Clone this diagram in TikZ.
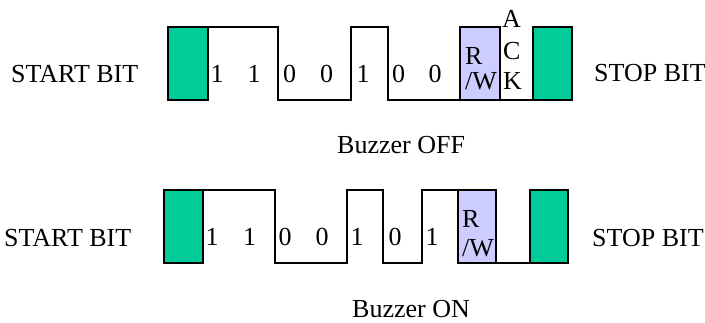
\documentclass[tikz,border=0pt]{standalone}
\usepackage{fontspec}
\setmainfont{Liberation Serif}
\definecolor{bitgreen}{HTML}{00CC99}
\definecolor{rwblue}{HTML}{CCCCFF}
\begin{document}
\begin{tikzpicture}[x=1pt,y=-1pt,
  wave/.style={line width=2.6pt,line join=miter},
  greenbox/.style={draw,line width=2.6pt,fill=bitgreen,rectangle,inner sep=0pt,outer sep=0pt,minimum height=73pt},
  rwbox/.style={draw,line width=2.6pt,fill=rwblue,rectangle,inner sep=0pt,outer sep=0pt,minimum height=73pt},
  lbl/.style={inner sep=0pt,anchor=base west,font=\fontsize{26}{30}\selectfont},
  dig/.style={inner sep=0pt,anchor=base,font=\fontsize{26}{30}\selectfont}]
\useasboundingbox (0,0) rectangle (705,323);
% ---------- top: Buzzer OFF ----------
\node[greenbox,minimum width=40pt] (gA) at (188,63.5) {};
\node[rwbox,minimum width=40pt] (rwA) at (480,63.5) {};
\node[greenbox,minimum width=39pt] (sA) at (552.5,63.5) {};
\draw[wave] (gA.north east) -- (278,27) -- (278,100) -- (351,100) -- (351,27)
  -- (388,27) -- (388,100) -- (rwA.south west);
\draw[wave] (rwA.south east) -- (sA.south west);
\node[lbl] (startA) at (11,83) {START BIT};
\node[lbl] (stopA) at (594,82) {STOP BIT};
\node[dig] (a1) at (217,83) {1};
\node[dig] (a2) at (254,83) {1};
\node[dig] (a3) at (289.5,83) {0};
\node[dig] (a4) at (326.5,83) {0};
\node[dig] (a5) at (363,83) {1};
\node[dig] (a6) at (398.5,83) {0};
\node[dig] (a7) at (435,83) {0};
\node[lbl] (rA) at (465,65) {R};
\node[lbl] (wA) at (465,90) {/W};
\node[lbl] (ackA) at (502,28) {A};
\node[lbl] (ackC) at (503,60) {C};
\node[lbl] (ackK) at (503,90) {K};
\node[lbl] (capA) at (337,154) {Buzzer OFF};
% ---------- bottom: Buzzer ON ----------
\node[greenbox,minimum width=39pt] (gB) at (183.5,226.5) {};
\node[rwbox,minimum width=38pt] (rwB) at (477,226.5) {};
\node[greenbox,minimum width=38pt] (sB) at (549,226.5) {};
\draw[wave] (gB.north east) -- (275,190) -- (275,263) -- (347,263) -- (347,190)
  -- (383,190) -- (383,263) -- (422,263) -- (422,190) -- (rwB.north west);
\draw[wave] (rwB.south east) -- (sB.south west);
\node[lbl] (startB) at (4,247) {START BIT};
\node[lbl] (stopB) at (592,247) {STOP BIT};
\node[dig] (b1) at (212,246) {1};
\node[dig] (b2) at (249.5,246) {1};
\node[dig] (b3) at (285,246) {0};
\node[dig] (b4) at (322,246) {0};
\node[dig] (b5) at (357,246) {1};
\node[dig] (b6) at (395,246) {0};
\node[dig] (b7) at (432,246) {1};
\node[lbl] (rB) at (462,228) {R};
\node[lbl] (wB) at (462,257) {/W};
\node[lbl] (capB) at (352,318) {Buzzer ON};
\end{tikzpicture}
\end{document}
